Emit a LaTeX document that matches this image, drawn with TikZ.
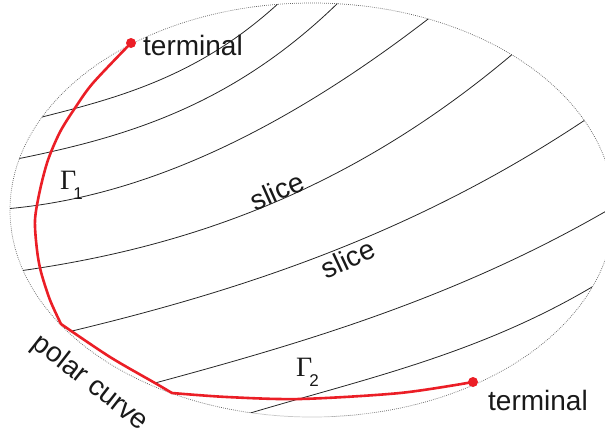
\documentclass[tikz,border=0pt]{standalone}
\usepackage{fontspec}
\setmainfont{Liberation Sans}
\newfontfamily\gammafont{Liberation Serif}
\definecolor{cred}{RGB}{235,30,38}
\begin{document}
\begin{tikzpicture}[x=1pt,y=-1pt,
  slicecurve/.style={line width=0.8pt, black!85},
  polar/.style={line width=2.6pt, cred, line join=round, line cap=round},
  termdot/.style={circle, fill=cred, inner sep=0pt, minimum size=10pt},
  lbl/.style={font=\fontsize{28}{31}\selectfont, inner sep=0pt, text=black!90},
  glbl/.style={inner sep=0pt, anchor=base west, text=black!90},
  boundary/.style={black!60, line width=0.7pt, dash pattern=on 0.8pt off 1.2pt}]
\useasboundingbox (0,0) rectangle (605,437);
\coordinate (O) at (312,210);
\coordinate (T1) at (131,43);
\coordinate (T2) at (473,382);
\coordinate (K1) at (61,324);
\coordinate (K2) at (172,393);
\draw[boundary] (O) ellipse [x radius=302, y radius=207];
\begin{scope}
\clip (O) ellipse [x radius=302, y radius=207];
\draw[slicecurve] (34,119) .. controls (116.3,98.4) and (198.7,77.5) .. (281,1);
\draw[slicecurve] (12,160) .. controls (122,138) and (232,107.9) .. (342,-1);
\draw[slicecurve] (4,209) .. controls (146.7,197.6) and (289.3,126.6) .. (432,16);
\draw[slicecurve] (19,271) .. controls (184.3,247.9) and (349.7,192.5) .. (515,52);
\draw[slicecurve] (72,331) .. controls (244,289.7) and (416,233.2) .. (588,118);
\draw[slicecurve] (155,383) .. controls (311.7,340.7) and (468.3,294) .. (625,200);
\draw[slicecurve] (247,414) .. controls (362,379.5) and (477,354.9) .. (592,287);
\end{scope}
\draw[polar] plot[smooth] coordinates {(T1) (93,83) (75,108) (60,132) (48,160) (40,190) (35,220) (37,250) (41,272) (50,300) (K1)}
  -- plot[smooth] coordinates {(K1) (110,357) (155,383) (K2)}
  -- plot[smooth] coordinates {(K2) (227,397) (300,399) (400,393) (T2)};
\node[termdot] (d1) at (T1) {};
\node[termdot] (d2) at (T2) {};
\node[lbl, anchor=base west] (term1) at (143,55) {terminal};
\node[lbl, anchor=base west] (term2) at (488,410) {terminal};
\node[lbl, rotate=24] (slice1) at (277,191) {slice};
\node[lbl, rotate=25] (slice2) at (348,259) {slice};
\node[lbl, rotate=-38] (polarlbl) at (90,383) {polar curve};
\node[glbl] (g1) at (60,189) {\gammafont\fontsize{28}{31}\selectfont Γ\kern-3pt\raisebox{-10pt}{\normalfont\fontsize{17}{19}\selectfont 1}};
\node[glbl] (g2) at (296,376) {\gammafont\fontsize{28}{31}\selectfont Γ\kern-3pt\raisebox{-10pt}{\normalfont\fontsize{17}{19}\selectfont 2}};
\end{tikzpicture}
\end{document}
